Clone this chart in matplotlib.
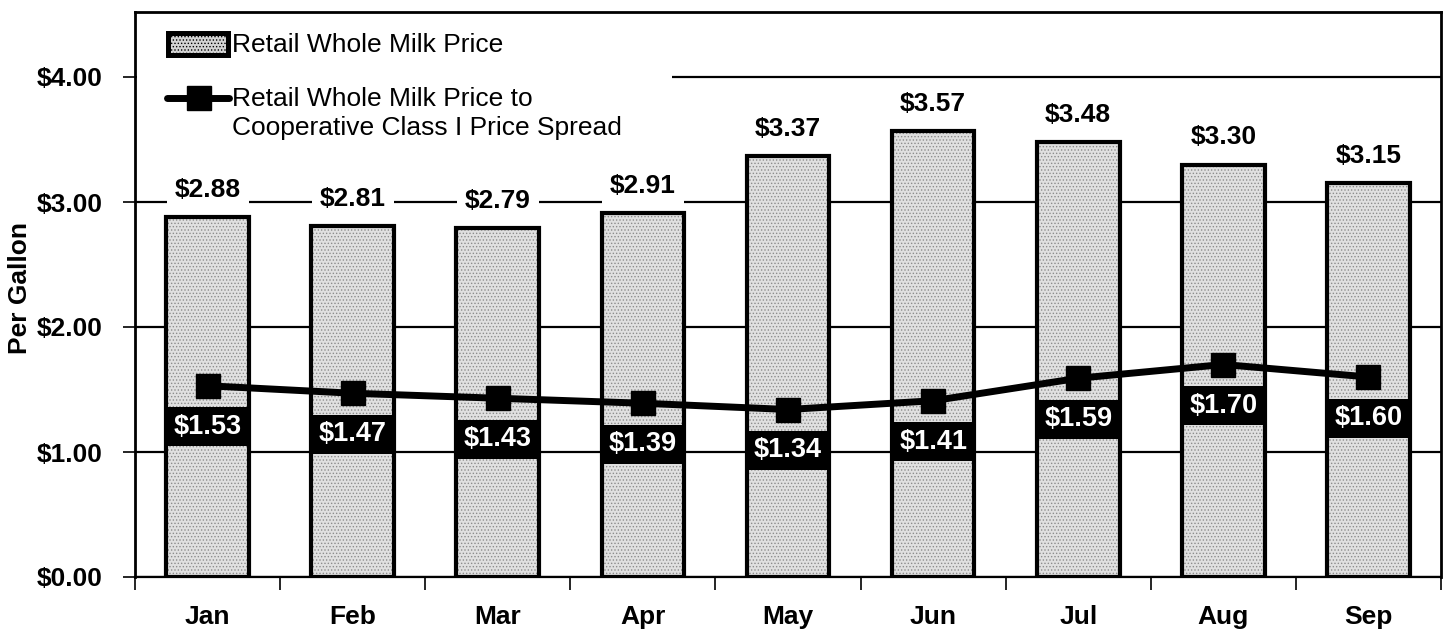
import matplotlib
matplotlib.use("Agg")
import matplotlib.pyplot as plt
from matplotlib.patches import Rectangle
from matplotlib.lines import Line2D
import numpy as np

months = ["Jan", "Feb", "Mar", "Apr", "May", "Jun", "Jul", "Aug", "Sep"]
retail_price = [2.88, 2.81, 2.79, 2.91, 3.37, 3.57, 3.48, 3.30, 3.15]
price_spread = [1.53, 1.47, 1.43, 1.39, 1.34, 1.41, 1.59, 1.70, 1.60]
yticks = [0, 1, 2, 3, 4]
ytick_labels = ["$0.00", "$1.00", "$2.00", "$3.00", "$4.00"]
legend_bar = "Retail Whole Milk Price"
legend_line = ["Retail Whole Milk Price to", "Cooperative Class I Price Spread"]

plt.rcParams['font.family'] = ['Liberation Sans', 'DejaVu Sans']
plt.rcParams['hatch.linewidth'] = 0.6

W, H = 1448, 629
fig = plt.figure(figsize=(W / 100, H / 100), dpi=100)
ax = fig.add_axes([135 / W, 52 / H, (1441 - 135) / W, (577 - 12) / H])

def fp(px, py):
    return (px / W, 1 - py / H)

FS = 19

x = np.arange(len(months))
bw = 0.57
ax.bar(x, retail_price, width=bw, color='#e0e0e0', edgecolor='#8c8c8c',
       hatch='.....', linewidth=0, zorder=2)
ax.bar(x, retail_price, width=bw, facecolor='none', edgecolor='black',
       linewidth=3.0, zorder=3)

ax.plot(x, price_spread, color='black', linewidth=5, marker='s',
        markersize=17, zorder=5)

for xi, v in zip(x, retail_price):
    ax.annotate(f"${v:.2f}", (xi, v), xytext=(0, 27), textcoords='offset pixels',
                ha='center', va='center', fontsize=FS, fontweight='bold',
                bbox=dict(boxstyle='square,pad=0.3', fc='white', ec='none'),
                zorder=6)

for xi, v in zip(x, price_spread):
    ax.annotate(f"${v:.2f}", (xi, v), xytext=(0, -41), textcoords='offset pixels',
                ha='center', va='center', fontsize=FS + 0.5, fontweight='bold',
                color='white',
                bbox=dict(boxstyle='square,pad=0.24', fc='black', ec='none'),
                zorder=6)

ax.set_xlim(-0.5, len(months) - 0.5)
ax.set_ylim(0, 4.52)
ax.set_yticks(yticks)
ax.set_yticklabels(ytick_labels, fontsize=FS, fontweight='bold')
ax.yaxis.grid(True, color='black', linewidth=1.6, zorder=0)
ax.set_axisbelow(True)

ax.set_xticks(x)
ax.set_xticklabels(months, fontsize=FS, fontweight='bold')
ax.tick_params(axis='x', length=0, pad=20)
ax.set_xticks(np.arange(-0.5, len(months)), minor=True)
ax.tick_params(axis='x', which='minor', length=9, width=1.2, direction='out')
ax.tick_params(axis='y', length=9, width=1.2, direction='out', pad=14)

for s in ax.spines.values():
    s.set_linewidth(2)
ax.spines['bottom'].set_linewidth(1.6)

lx, ly = fp(20, 288)
fig.text(lx, ly, "Per Gallon", fontsize=FS, fontweight='bold', rotation=90,
         ha='center', va='center')

# manual legend
x0, y0 = fp(137, 14)
x1, y1 = fp(672, 146)
fig.add_artist(Rectangle((x0, y1), x1 - x0, y0 - y1, transform=fig.transFigure,
                         facecolor='white', edgecolor='none', zorder=10))
hx0, hy0 = fp(168, 33)
hx1, hy1 = fp(228, 55)
fig.add_artist(Rectangle((hx0, hy1), hx1 - hx0, hy0 - hy1, transform=fig.transFigure,
                         facecolor='#d4d4d4', edgecolor='black', linewidth=3.5,
                         hatch='.....', zorder=11))
fig.add_artist(Rectangle((hx0, hy1), hx1 - hx0, hy0 - hy1, transform=fig.transFigure,
                         facecolor='none', edgecolor='black', linewidth=3.5,
                         zorder=12))
lx0, ly = fp(167, 98)
lx1, _ = fp(229, 98)
lxm, _ = fp(199, 98)
fig.add_artist(Line2D([lx0, lx1], [ly, ly], transform=fig.transFigure,
                      color='black', linewidth=5, solid_capstyle='round', zorder=11))
fig.add_artist(Line2D([lxm], [ly], transform=fig.transFigure, color='black',
                      marker='s', markersize=17, zorder=12))
tx, ty = fp(232, 45)
fig.text(tx, ty, legend_bar, fontsize=FS, ha='left', va='center', zorder=13)
tx, ty = fp(232, 99)
fig.text(tx, ty, legend_line[0], fontsize=FS, ha='left', va='center', zorder=13)
tx, ty = fp(232, 128)
fig.text(tx, ty, legend_line[1], fontsize=FS, ha='left', va='center', zorder=13)

fig.savefig("out.png", dpi=100)
